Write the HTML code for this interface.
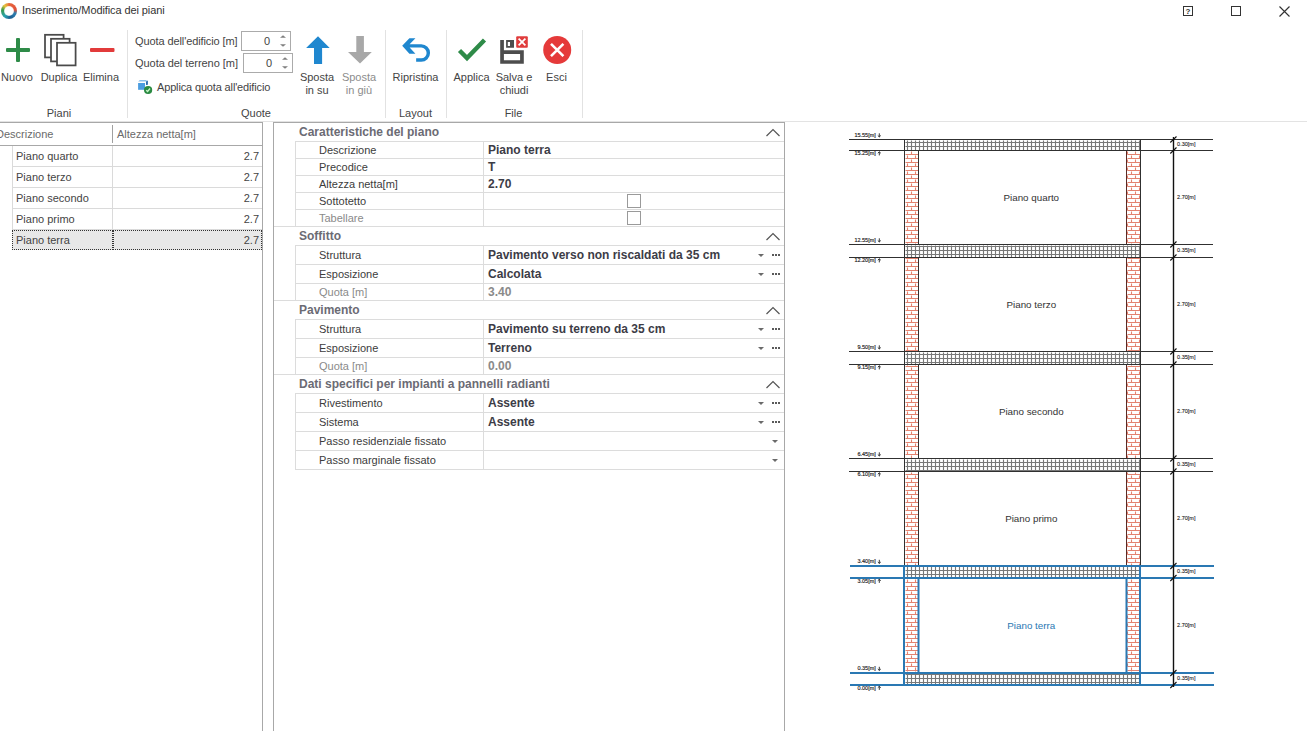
<!DOCTYPE html>
<html><head><meta charset="utf-8">
<style>
html,body{margin:0;padding:0;}
body{width:1307px;height:731px;overflow:hidden;background:#fff;position:relative;font-family:"Liberation Sans", sans-serif;font-size:11px;color:#444;}
.a{position:absolute;white-space:nowrap;}
.t{position:absolute;white-space:nowrap;line-height:13px;}
.c{text-align:center;}
.b{font-weight:bold;font-size:12px;}
</style></head><body>
<div class="a" style="left:1px;top:3px;width:16px;height:16px;border-radius:50%;background:conic-gradient(from 0deg,#e8673c 0deg,#e0503a 80deg,#2b7fb0 110deg,#1d5f93 170deg,#2aa3b0 220deg,#3b9a4c 280deg,#e8c43c 320deg,#e88a3c 350deg,#e8673c 360deg);"></div>
<div class="a" style="left:4px;top:6px;width:10px;height:10px;border-radius:50%;background:radial-gradient(circle,#fff 0,#fff 55%,rgba(255,255,255,0.6) 80%,rgba(255,255,255,0) 100%);"></div>
<div class="t" style="left:22px;top:4px;color:#333;letter-spacing:-0.1px;">Inserimento/Modifica dei piani</div>
<svg class="a" style="left:1180px;top:3px" width="110" height="16">
<rect x="3.5" y="3.5" width="9" height="9" fill="none" stroke="#333" stroke-width="1"/>
<text x="8" y="11" font-family="Liberation Sans" font-size="8" font-weight="bold" text-anchor="middle" fill="#333">?</text>
<rect x="51.5" y="3.5" width="9" height="9" fill="none" stroke="#333" stroke-width="1"/>
<path d="M99.5 3.5 L109.5 13.5 M109.5 3.5 L99.5 13.5" stroke="#333" stroke-width="1.15"/>
</svg>
<svg class="a" style="left:0;top:30px" width="600" height="40">
<!-- plus -->
<rect x="6" y="18" width="24" height="4" rx="1" fill="#2e8b48"/>
<rect x="16" y="8" width="4" height="24" rx="1" fill="#2e8b48"/>
<!-- duplica -->
<g fill="#fff" stroke="#4a4a4a" stroke-width="1.75">
<rect x="45" y="4.8" width="18.6" height="22.6"/>
<rect x="51" y="8.8" width="18.6" height="22.6"/>
<rect x="57" y="12.8" width="18.6" height="22.6"/>
</g>
<!-- minus -->
<rect x="90" y="18" width="24.5" height="4" rx="1" fill="#e23b3b"/>
<!-- up arrow -->
<path d="M318 6.2 L329.7 18 L322.1 18 L322.1 34 L314 34 L314 18 L306.1 18 Z" fill="#1f87cf"/>
<!-- down arrow -->
<path d="M356.3 6 L363.9 6 L363.9 22 L371.8 22 L360 33.6 L348 22 L356.3 22 Z" fill="#a8a8a8"/>
<!-- ripristina -->
<path d="M409.4 8.28 L415.44 8.28 L409.63 14.19 L421.26 14.19 A8.79 8.79 0 0 1 421.26 31.77 L416.14 31.77 L416.14 28.28 L421.26 28.28 A5.35 5.35 0 0 0 421.26 17.58 L409.63 17.58 L415.44 23.63 L409.4 23.63 L402.19 15.72 Z" fill="#1f87cf"/>
<!-- check -->
<path d="M459.5 20.5 L467 28 L484.5 10" fill="none" stroke="#2e8b48" stroke-width="4.4"/>
<!-- save -->
<path d="M500.2 10.1 H503.9 V20.2 H523.8 V33.8 H500.2 Z M503.9 23.9 V30.3 H520.1 V23.9 Z" fill="#4d4d4d" fill-rule="evenodd"/>
<path d="M506.1 10.1 H514 V17.8 H506.1 Z M507.8 12.1 V16 H510 V12.1 Z" fill="#4d4d4d" fill-rule="evenodd"/>
<rect x="516.2" y="6.2" width="11.6" height="11.6" rx="1" fill="#e03c3c"/>
<path d="M518.6 8.6 L525.4 15.4 M525.4 8.6 L518.6 15.4" stroke="#fff" stroke-width="1.7"/>
<!-- esci -->
<circle cx="557.2" cy="20" r="14" fill="#e53a3a"/>
<path d="M551 13.8 L563.4 26.2 M563.4 13.8 L551 26.2" stroke="#fff" stroke-width="2.6"/>
</svg>
<div class="t c" style="left:-13.0px;top:71px;width:60px;color:#444;">Nuovo</div><div class="t c" style="left:29.0px;top:71px;width:60px;color:#444;">Duplica</div><div class="t c" style="left:71.0px;top:71px;width:60px;color:#444;">Elimina</div><div class="t c" style="left:29.0px;top:107px;width:60px;color:#444;">Piani</div><div class="t c" style="left:287.0px;top:71px;width:60px;color:#444;">Sposta<br>in su</div><div class="t c" style="left:329.0px;top:71px;width:60px;color:#8c8c8c;">Sposta<br>in giù</div><div class="t c" style="left:226.0px;top:107px;width:60px;color:#444;">Quote</div><div class="t c" style="left:385.5px;top:71px;width:60px;color:#444;">Ripristina</div><div class="t c" style="left:385.5px;top:107px;width:60px;color:#444;">Layout</div><div class="t c" style="left:441.5px;top:71px;width:60px;color:#444;">Applica</div><div class="t c" style="left:484.0px;top:71px;width:60px;color:#444;">Salva e<br>chiudi</div><div class="t c" style="left:526.5px;top:71px;width:60px;color:#444;">Esci</div><div class="t c" style="left:483.5px;top:107px;width:60px;color:#444;">File</div><div class="a" style="left:127.0px;top:30px;width:1px;height:88px;background:#e2e2e2;"></div><div class="a" style="left:385.0px;top:30px;width:1px;height:88px;background:#e2e2e2;"></div><div class="a" style="left:446.0px;top:30px;width:1px;height:88px;background:#e2e2e2;"></div><div class="a" style="left:582.0px;top:30px;width:1px;height:88px;background:#e2e2e2;"></div><div class="t" style="left:135px;top:35px;letter-spacing:-0.1px;">Quota dell'edificio [m]</div>
<div class="t" style="left:135px;top:57px;letter-spacing:-0.05px;">Quota del terreno [m]</div>
<div class="a" style="left:241px;top:31px;width:48px;height:18px;border:1px solid #ababab;"></div>
<div class="a" style="left:243px;top:53px;width:48px;height:18px;border:1px solid #ababab;"></div>
<div class="t" style="left:264px;top:35px;">0</div>
<div class="t" style="left:266px;top:57px;">0</div>
<svg class="a" style="left:276px;top:33px" width="20" height="40">
<path d="M4 4.8 L7 2.2 L10 4.8 Z M4 11.2 L7 13.8 L10 11.2 Z" fill="#808080"/>
<path d="M6 26.8 L9 24.2 L12 26.8 Z M6 33.2 L9 35.8 L12 33.2 Z" fill="#808080"/>
</svg>
<svg class="a" style="left:134px;top:76px" width="20" height="20">
<path d="M4.1 5.6 L5.8 4.1 L12.9 4.1 L12 5.6 Z" fill="#8cc0ea"/>
<rect x="4.1" y="7" width="6.9" height="6.8" fill="#4b9de0"/>
<path d="M12 5.6 L13.9 4.6 L13.9 8.8 L12 9 Z" fill="#2b6cb0"/>
<circle cx="14.1" cy="14" r="4.1" fill="#2a8a42"/>
<path d="M12.2 14.2 L13.6 15.5 L16 12.5" fill="none" stroke="#c8f5c8" stroke-width="1.3"/>
</svg>
<div class="t" style="left:157px;top:81px;letter-spacing:-0.15px;">Applica quota all'edificio</div>
<div class="a" style="left:0;top:121px;width:1307px;height:1px;background:#e3e3e3;"></div><div class="a" style="left:0;top:122px;width:263px;height:609px;border-top:1px solid #a8a8a8;border-right:1px solid #a8a8a8;box-sizing:border-box;"></div><div class="t" style="left:-4px;top:128px;color:#6a6a6a;">Descrizione</div><div class="t" style="left:117px;top:128px;color:#6a6a6a;">Altezza netta[m]</div><div class="a" style="left:112px;top:125px;width:1px;height:18px;background:#a0a0a0;"></div><div class="a" style="left:0;top:145px;width:262px;height:1px;background:#a8a8a8;"></div><div class="a" style="left:12px;top:146px;width:1px;height:104px;background:#dadada;"></div><div class="a" style="left:112px;top:146px;width:1px;height:84px;background:#dadada;"></div><div class="a" style="left:13px;top:166px;width:249px;height:1px;background:#dadada;"></div><div class="t" style="left:16px;top:150px;">Piano quarto</div><div class="t" style="left:200px;top:150px;width:59px;text-align:right;">2.7</div><div class="a" style="left:13px;top:187px;width:249px;height:1px;background:#dadada;"></div><div class="t" style="left:16px;top:171px;">Piano terzo</div><div class="t" style="left:200px;top:171px;width:59px;text-align:right;">2.7</div><div class="a" style="left:13px;top:208px;width:249px;height:1px;background:#dadada;"></div><div class="t" style="left:16px;top:192px;">Piano secondo</div><div class="t" style="left:200px;top:192px;width:59px;text-align:right;">2.7</div><div class="a" style="left:13px;top:229px;width:249px;height:1px;background:#dadada;"></div><div class="t" style="left:16px;top:213px;">Piano primo</div><div class="t" style="left:200px;top:213px;width:59px;text-align:right;">2.7</div><div class="a" style="left:12px;top:230px;width:101px;height:20px;background:#e8e8e8;border:1px dotted #333;box-sizing:border-box;"></div><div class="a" style="left:113px;top:230px;width:149px;height:20px;background:#e8e8e8;border:1px dotted #333;box-sizing:border-box;"></div><div class="t" style="left:16px;top:234px;">Piano terra</div><div class="t" style="left:200px;top:234px;width:59px;text-align:right;">2.7</div><div class="a" style="left:273px;top:122px;width:512px;height:609px;border-top:1px solid #a8a8a8;border-left:1px solid #a8a8a8;border-right:1px solid #a8a8a8;box-sizing:border-box;"></div><div class="t b" style="left:299px;top:126px;color:#6b6b74;">Caratteristiche del piano</div><svg class="a" style="left:765px;top:128px" width="16" height="10"><path d="M1.5 8 L8 1.5 L14.5 8" fill="none" stroke="#555" stroke-width="1.2"/></svg><div class="a" style="left:295px;top:141px;width:489px;height:1px;background:#dcdcdc;"></div><div class="a" style="left:295px;top:141px;width:1px;height:85px;background:#dcdcdc;"></div><div class="a" style="left:483px;top:141px;width:1px;height:85px;background:#dcdcdc;"></div><div class="t" style="left:319px;top:143.5px;color:#3c3c3c;">Descrizione</div><div class="t b" style="left:488px;top:143.5px;color:#3c3c46;">Piano terra</div><div class="a" style="left:295px;top:158px;width:489px;height:1px;background:#dcdcdc;"></div><div class="t" style="left:319px;top:160.5px;color:#3c3c3c;">Precodice</div><div class="t b" style="left:488px;top:160.5px;color:#3c3c46;">T</div><div class="a" style="left:295px;top:175px;width:489px;height:1px;background:#dcdcdc;"></div><div class="t" style="left:319px;top:177.5px;color:#3c3c3c;">Altezza netta[m]</div><div class="t b" style="left:488px;top:177.5px;color:#3c3c46;">2.70</div><div class="a" style="left:295px;top:192px;width:489px;height:1px;background:#dcdcdc;"></div><div class="t" style="left:319px;top:194.5px;color:#3c3c3c;">Sottotetto</div><div class="a" style="left:627px;top:194px;width:14px;height:14px;border:1px solid #9a9a9a;box-sizing:border-box;background:#fff;"></div><div class="a" style="left:295px;top:209px;width:489px;height:1px;background:#dcdcdc;"></div><div class="t" style="left:319px;top:211.5px;color:#8a8a8a;">Tabellare</div><div class="a" style="left:627px;top:211px;width:14px;height:14px;border:1px solid #9a9a9a;box-sizing:border-box;background:#fff;"></div><div class="a" style="left:295px;top:226px;width:489px;height:1px;background:#dcdcdc;"></div><div class="a" style="left:274px;top:226px;width:510px;height:1px;background:#dcdcdc;"></div><div class="t b" style="left:299px;top:230px;color:#6b6b74;">Soffitto</div><svg class="a" style="left:765px;top:232px" width="16" height="10"><path d="M1.5 8 L8 1.5 L14.5 8" fill="none" stroke="#555" stroke-width="1.2"/></svg><div class="a" style="left:295px;top:245px;width:489px;height:1px;background:#dcdcdc;"></div><div class="a" style="left:295px;top:245px;width:1px;height:55px;background:#dcdcdc;"></div><div class="a" style="left:483px;top:245px;width:1px;height:55px;background:#dcdcdc;"></div><div class="t" style="left:319px;top:248.5px;color:#3c3c3c;">Struttura</div><div class="t b" style="left:488px;top:248.5px;color:#3c3c46;">Pavimento verso non riscaldati da 35 cm</div><svg class="a" style="left:758px;top:253.5px" width="7" height="4"><path d="M0 0 L6 0 L3 3 Z" fill="#6a6a6a"/></svg><svg class="a" style="left:772px;top:254px" width="9" height="2"><rect x="0" y="0" width="2" height="2" fill="#5a5a5a"/><rect x="3" y="0" width="2" height="2" fill="#5a5a5a"/><rect x="6" y="0" width="2" height="2" fill="#5a5a5a"/></svg><div class="a" style="left:295px;top:264px;width:489px;height:1px;background:#dcdcdc;"></div><div class="t" style="left:319px;top:267.5px;color:#3c3c3c;">Esposizione</div><div class="t b" style="left:488px;top:267.5px;color:#3c3c46;">Calcolata</div><svg class="a" style="left:758px;top:272.5px" width="7" height="4"><path d="M0 0 L6 0 L3 3 Z" fill="#6a6a6a"/></svg><svg class="a" style="left:772px;top:273px" width="9" height="2"><rect x="0" y="0" width="2" height="2" fill="#5a5a5a"/><rect x="3" y="0" width="2" height="2" fill="#5a5a5a"/><rect x="6" y="0" width="2" height="2" fill="#5a5a5a"/></svg><div class="a" style="left:295px;top:283px;width:489px;height:1px;background:#dcdcdc;"></div><div class="t" style="left:319px;top:285.5px;color:#8a8a8a;">Quota [m]</div><div class="t b" style="left:488px;top:285.5px;color:#8a8a8a;">3.40</div><div class="a" style="left:295px;top:300px;width:489px;height:1px;background:#dcdcdc;"></div><div class="a" style="left:274px;top:300px;width:510px;height:1px;background:#dcdcdc;"></div><div class="t b" style="left:299px;top:304px;color:#6b6b74;">Pavimento</div><svg class="a" style="left:765px;top:306px" width="16" height="10"><path d="M1.5 8 L8 1.5 L14.5 8" fill="none" stroke="#555" stroke-width="1.2"/></svg><div class="a" style="left:295px;top:319px;width:489px;height:1px;background:#dcdcdc;"></div><div class="a" style="left:295px;top:319px;width:1px;height:55px;background:#dcdcdc;"></div><div class="a" style="left:483px;top:319px;width:1px;height:55px;background:#dcdcdc;"></div><div class="t" style="left:319px;top:322.5px;color:#3c3c3c;">Struttura</div><div class="t b" style="left:488px;top:322.5px;color:#3c3c46;">Pavimento su terreno da 35 cm</div><svg class="a" style="left:758px;top:327.5px" width="7" height="4"><path d="M0 0 L6 0 L3 3 Z" fill="#6a6a6a"/></svg><svg class="a" style="left:772px;top:328px" width="9" height="2"><rect x="0" y="0" width="2" height="2" fill="#5a5a5a"/><rect x="3" y="0" width="2" height="2" fill="#5a5a5a"/><rect x="6" y="0" width="2" height="2" fill="#5a5a5a"/></svg><div class="a" style="left:295px;top:338px;width:489px;height:1px;background:#dcdcdc;"></div><div class="t" style="left:319px;top:341.5px;color:#3c3c3c;">Esposizione</div><div class="t b" style="left:488px;top:341.5px;color:#3c3c46;">Terreno</div><svg class="a" style="left:758px;top:346.5px" width="7" height="4"><path d="M0 0 L6 0 L3 3 Z" fill="#6a6a6a"/></svg><svg class="a" style="left:772px;top:347px" width="9" height="2"><rect x="0" y="0" width="2" height="2" fill="#5a5a5a"/><rect x="3" y="0" width="2" height="2" fill="#5a5a5a"/><rect x="6" y="0" width="2" height="2" fill="#5a5a5a"/></svg><div class="a" style="left:295px;top:357px;width:489px;height:1px;background:#dcdcdc;"></div><div class="t" style="left:319px;top:359.5px;color:#8a8a8a;">Quota [m]</div><div class="t b" style="left:488px;top:359.5px;color:#8a8a8a;">0.00</div><div class="a" style="left:295px;top:374px;width:489px;height:1px;background:#dcdcdc;"></div><div class="a" style="left:274px;top:374px;width:510px;height:1px;background:#dcdcdc;"></div><div class="t b" style="left:299px;top:378px;color:#6b6b74;">Dati specifici per impianti a pannelli radianti</div><svg class="a" style="left:765px;top:380px" width="16" height="10"><path d="M1.5 8 L8 1.5 L14.5 8" fill="none" stroke="#555" stroke-width="1.2"/></svg><div class="a" style="left:295px;top:393px;width:489px;height:1px;background:#dcdcdc;"></div><div class="a" style="left:295px;top:393px;width:1px;height:76px;background:#dcdcdc;"></div><div class="a" style="left:483px;top:393px;width:1px;height:76px;background:#dcdcdc;"></div><div class="t" style="left:319px;top:396.5px;color:#3c3c3c;">Rivestimento</div><div class="t b" style="left:488px;top:396.5px;color:#3c3c46;">Assente</div><svg class="a" style="left:758px;top:401.5px" width="7" height="4"><path d="M0 0 L6 0 L3 3 Z" fill="#6a6a6a"/></svg><svg class="a" style="left:772px;top:402px" width="9" height="2"><rect x="0" y="0" width="2" height="2" fill="#5a5a5a"/><rect x="3" y="0" width="2" height="2" fill="#5a5a5a"/><rect x="6" y="0" width="2" height="2" fill="#5a5a5a"/></svg><div class="a" style="left:295px;top:412px;width:489px;height:1px;background:#dcdcdc;"></div><div class="t" style="left:319px;top:415.5px;color:#3c3c3c;">Sistema</div><div class="t b" style="left:488px;top:415.5px;color:#3c3c46;">Assente</div><svg class="a" style="left:758px;top:420.5px" width="7" height="4"><path d="M0 0 L6 0 L3 3 Z" fill="#6a6a6a"/></svg><svg class="a" style="left:772px;top:421px" width="9" height="2"><rect x="0" y="0" width="2" height="2" fill="#5a5a5a"/><rect x="3" y="0" width="2" height="2" fill="#5a5a5a"/><rect x="6" y="0" width="2" height="2" fill="#5a5a5a"/></svg><div class="a" style="left:295px;top:431px;width:489px;height:1px;background:#dcdcdc;"></div><div class="t" style="left:319px;top:434.5px;color:#3c3c3c;">Passo residenziale fissato</div><svg class="a" style="left:772px;top:439.5px" width="7" height="4"><path d="M0 0 L6 0 L3 3 Z" fill="#6a6a6a"/></svg><div class="a" style="left:295px;top:450px;width:489px;height:1px;background:#dcdcdc;"></div><div class="t" style="left:319px;top:453.5px;color:#3c3c3c;">Passo marginale fissato</div><svg class="a" style="left:772px;top:458.5px" width="7" height="4"><path d="M0 0 L6 0 L3 3 Z" fill="#6a6a6a"/></svg><div class="a" style="left:295px;top:469px;width:489px;height:1px;background:#dcdcdc;"></div><svg class="a" style="left:0;top:0" width="1307" height="731" shape-rendering="crispEdges">
<path d="M905 674h235M905 678h235M905 682h235M907 673v12M911 673v12M915 673v12M919 673v12M923 673v12M927 673v12M931 673v12M935 673v12M939 673v12M943 673v12M947 673v12M951 673v12M955 673v12M959 673v12M963 673v12M967 673v12M971 673v12M975 673v12M979 673v12M983 673v12M987 673v12M991 673v12M995 673v12M999 673v12M1003 673v12M1007 673v12M1011 673v12M1015 673v12M1019 673v12M1023 673v12M1027 673v12M1031 673v12M1035 673v12M1039 673v12M1043 673v12M1047 673v12M1051 673v12M1055 673v12M1059 673v12M1063 673v12M1067 673v12M1071 673v12M1075 673v12M1079 673v12M1083 673v12M1087 673v12M1091 673v12M1095 673v12M1099 673v12M1103 673v12M1107 673v12M1111 673v12M1115 673v12M1119 673v12M1123 673v12M1127 673v12M1131 673v12M1135 673v12M1139 673v12M905 566h235M905 570h235M905 574h235M907 566v12M911 566v12M915 566v12M919 566v12M923 566v12M927 566v12M931 566v12M935 566v12M939 566v12M943 566v12M947 566v12M951 566v12M955 566v12M959 566v12M963 566v12M967 566v12M971 566v12M975 566v12M979 566v12M983 566v12M987 566v12M991 566v12M995 566v12M999 566v12M1003 566v12M1007 566v12M1011 566v12M1015 566v12M1019 566v12M1023 566v12M1027 566v12M1031 566v12M1035 566v12M1039 566v12M1043 566v12M1047 566v12M1051 566v12M1055 566v12M1059 566v12M1063 566v12M1067 566v12M1071 566v12M1075 566v12M1079 566v12M1083 566v12M1087 566v12M1091 566v12M1095 566v12M1099 566v12M1103 566v12M1107 566v12M1111 566v12M1115 566v12M1119 566v12M1123 566v12M1127 566v12M1131 566v12M1135 566v12M1139 566v12M905 462h235M905 466h235M905 470h235M907 459v12M911 459v12M915 459v12M919 459v12M923 459v12M927 459v12M931 459v12M935 459v12M939 459v12M943 459v12M947 459v12M951 459v12M955 459v12M959 459v12M963 459v12M967 459v12M971 459v12M975 459v12M979 459v12M983 459v12M987 459v12M991 459v12M995 459v12M999 459v12M1003 459v12M1007 459v12M1011 459v12M1015 459v12M1019 459v12M1023 459v12M1027 459v12M1031 459v12M1035 459v12M1039 459v12M1043 459v12M1047 459v12M1051 459v12M1055 459v12M1059 459v12M1063 459v12M1067 459v12M1071 459v12M1075 459v12M1079 459v12M1083 459v12M1087 459v12M1091 459v12M1095 459v12M1099 459v12M1103 459v12M1107 459v12M1111 459v12M1115 459v12M1119 459v12M1123 459v12M1127 459v12M1131 459v12M1135 459v12M1139 459v12M905 354h235M905 358h235M905 362h235M907 352v12M911 352v12M915 352v12M919 352v12M923 352v12M927 352v12M931 352v12M935 352v12M939 352v12M943 352v12M947 352v12M951 352v12M955 352v12M959 352v12M963 352v12M967 352v12M971 352v12M975 352v12M979 352v12M983 352v12M987 352v12M991 352v12M995 352v12M999 352v12M1003 352v12M1007 352v12M1011 352v12M1015 352v12M1019 352v12M1023 352v12M1027 352v12M1031 352v12M1035 352v12M1039 352v12M1043 352v12M1047 352v12M1051 352v12M1055 352v12M1059 352v12M1063 352v12M1067 352v12M1071 352v12M1075 352v12M1079 352v12M1083 352v12M1087 352v12M1091 352v12M1095 352v12M1099 352v12M1103 352v12M1107 352v12M1111 352v12M1115 352v12M1119 352v12M1123 352v12M1127 352v12M1131 352v12M1135 352v12M1139 352v12M905 246h235M905 250h235M905 254h235M907 245v12M911 245v12M915 245v12M919 245v12M923 245v12M927 245v12M931 245v12M935 245v12M939 245v12M943 245v12M947 245v12M951 245v12M955 245v12M959 245v12M963 245v12M967 245v12M971 245v12M975 245v12M979 245v12M983 245v12M987 245v12M991 245v12M995 245v12M999 245v12M1003 245v12M1007 245v12M1011 245v12M1015 245v12M1019 245v12M1023 245v12M1027 245v12M1031 245v12M1035 245v12M1039 245v12M1043 245v12M1047 245v12M1051 245v12M1055 245v12M1059 245v12M1063 245v12M1067 245v12M1071 245v12M1075 245v12M1079 245v12M1083 245v12M1087 245v12M1091 245v12M1095 245v12M1099 245v12M1103 245v12M1107 245v12M1111 245v12M1115 245v12M1119 245v12M1123 245v12M1127 245v12M1131 245v12M1135 245v12M1139 245v12M905 142h235M905 146h235M907 140v10M911 140v10M915 140v10M919 140v10M923 140v10M927 140v10M931 140v10M935 140v10M939 140v10M943 140v10M947 140v10M951 140v10M955 140v10M959 140v10M963 140v10M967 140v10M971 140v10M975 140v10M979 140v10M983 140v10M987 140v10M991 140v10M995 140v10M999 140v10M1003 140v10M1007 140v10M1011 140v10M1015 140v10M1019 140v10M1023 140v10M1027 140v10M1031 140v10M1035 140v10M1039 140v10M1043 140v10M1047 140v10M1051 140v10M1055 140v10M1059 140v10M1063 140v10M1067 140v10M1071 140v10M1075 140v10M1079 140v10M1083 140v10M1087 140v10M1091 140v10M1095 140v10M1099 140v10M1103 140v10M1107 140v10M1111 140v10M1115 140v10M1119 140v10M1123 140v10M1127 140v10M1131 140v10M1135 140v10M1139 140v10" fill="none" stroke="#787878" stroke-width="1.12" transform="translate(0.5,0.5)" shape-rendering="auto"/>
<path d="M905 582h13M905 586h13M905 590h13M905 594h13M905 598h13M905 602h13M905 606h13M905 610h13M905 614h13M905 618h13M905 622h13M905 626h13M905 630h13M905 634h13M905 638h13M905 642h13M905 646h13M905 650h13M905 654h13M905 658h13M905 662h13M905 666h13M905 670h13M907 579v3M915 579v3M911 583v3M907 587v3M915 587v3M911 591v3M907 595v3M915 595v3M911 599v3M907 603v3M915 603v3M911 607v3M907 611v3M915 611v3M911 615v3M907 619v3M915 619v3M911 623v3M907 627v3M915 627v3M911 631v3M907 635v3M915 635v3M911 639v3M907 643v3M915 643v3M911 647v3M907 651v3M915 651v3M911 655v3M907 659v3M915 659v3M911 663v3M907 667v3M915 667v3M907 671v1M915 671v1M1127 582h13M1127 586h13M1127 590h13M1127 594h13M1127 598h13M1127 602h13M1127 606h13M1127 610h13M1127 614h13M1127 618h13M1127 622h13M1127 626h13M1127 630h13M1127 634h13M1127 638h13M1127 642h13M1127 646h13M1127 650h13M1127 654h13M1127 658h13M1127 662h13M1127 666h13M1127 670h13M1131 579v3M1139 579v3M1127 583v3M1135 583v3M1131 587v3M1139 587v3M1127 591v3M1135 591v3M1131 595v3M1139 595v3M1127 599v3M1135 599v3M1131 603v3M1139 603v3M1127 607v3M1135 607v3M1131 611v3M1139 611v3M1127 615v3M1135 615v3M1131 619v3M1139 619v3M1127 623v3M1135 623v3M1131 627v3M1139 627v3M1127 631v3M1135 631v3M1131 635v3M1139 635v3M1127 639v3M1135 639v3M1131 643v3M1139 643v3M1127 647v3M1135 647v3M1131 651v3M1139 651v3M1127 655v3M1135 655v3M1131 659v3M1139 659v3M1127 663v3M1135 663v3M1131 667v3M1139 667v3M1131 671v1M1139 671v1M905 474h13M905 478h13M905 482h13M905 486h13M905 490h13M905 494h13M905 498h13M905 502h13M905 506h13M905 510h13M905 514h13M905 518h13M905 522h13M905 526h13M905 530h13M905 534h13M905 538h13M905 542h13M905 546h13M905 550h13M905 554h13M905 558h13M905 562h13M911 472v2M907 475v3M915 475v3M911 479v3M907 483v3M915 483v3M911 487v3M907 491v3M915 491v3M911 495v3M907 499v3M915 499v3M911 503v3M907 507v3M915 507v3M911 511v3M907 515v3M915 515v3M911 519v3M907 523v3M915 523v3M911 527v3M907 531v3M915 531v3M911 535v3M907 539v3M915 539v3M911 543v3M907 547v3M915 547v3M911 551v3M907 555v3M915 555v3M911 559v3M907 563v2M915 563v2M1127 474h13M1127 478h13M1127 482h13M1127 486h13M1127 490h13M1127 494h13M1127 498h13M1127 502h13M1127 506h13M1127 510h13M1127 514h13M1127 518h13M1127 522h13M1127 526h13M1127 530h13M1127 534h13M1127 538h13M1127 542h13M1127 546h13M1127 550h13M1127 554h13M1127 558h13M1127 562h13M1127 472v2M1135 472v2M1131 475v3M1139 475v3M1127 479v3M1135 479v3M1131 483v3M1139 483v3M1127 487v3M1135 487v3M1131 491v3M1139 491v3M1127 495v3M1135 495v3M1131 499v3M1139 499v3M1127 503v3M1135 503v3M1131 507v3M1139 507v3M1127 511v3M1135 511v3M1131 515v3M1139 515v3M1127 519v3M1135 519v3M1131 523v3M1139 523v3M1127 527v3M1135 527v3M1131 531v3M1139 531v3M1127 535v3M1135 535v3M1131 539v3M1139 539v3M1127 543v3M1135 543v3M1131 547v3M1139 547v3M1127 551v3M1135 551v3M1131 555v3M1139 555v3M1127 559v3M1135 559v3M1131 563v2M1139 563v2M905 366h13M905 370h13M905 374h13M905 378h13M905 382h13M905 386h13M905 390h13M905 394h13M905 398h13M905 402h13M905 406h13M905 410h13M905 414h13M905 418h13M905 422h13M905 426h13M905 430h13M905 434h13M905 438h13M905 442h13M905 446h13M905 450h13M905 454h13M907 365v1M915 365v1M911 367v3M907 371v3M915 371v3M911 375v3M907 379v3M915 379v3M911 383v3M907 387v3M915 387v3M911 391v3M907 395v3M915 395v3M911 399v3M907 403v3M915 403v3M911 407v3M907 411v3M915 411v3M911 415v3M907 419v3M915 419v3M911 423v3M907 427v3M915 427v3M911 431v3M907 435v3M915 435v3M911 439v3M907 443v3M915 443v3M911 447v3M907 451v3M915 451v3M911 455v3M1127 366h13M1127 370h13M1127 374h13M1127 378h13M1127 382h13M1127 386h13M1127 390h13M1127 394h13M1127 398h13M1127 402h13M1127 406h13M1127 410h13M1127 414h13M1127 418h13M1127 422h13M1127 426h13M1127 430h13M1127 434h13M1127 438h13M1127 442h13M1127 446h13M1127 450h13M1127 454h13M1131 365v1M1139 365v1M1127 367v3M1135 367v3M1131 371v3M1139 371v3M1127 375v3M1135 375v3M1131 379v3M1139 379v3M1127 383v3M1135 383v3M1131 387v3M1139 387v3M1127 391v3M1135 391v3M1131 395v3M1139 395v3M1127 399v3M1135 399v3M1131 403v3M1139 403v3M1127 407v3M1135 407v3M1131 411v3M1139 411v3M1127 415v3M1135 415v3M1131 419v3M1139 419v3M1127 423v3M1135 423v3M1131 427v3M1139 427v3M1127 431v3M1135 431v3M1131 435v3M1139 435v3M1127 439v3M1135 439v3M1131 443v3M1139 443v3M1127 447v3M1135 447v3M1131 451v3M1139 451v3M1127 455v3M1135 455v3M905 258h13M905 262h13M905 266h13M905 270h13M905 274h13M905 278h13M905 282h13M905 286h13M905 290h13M905 294h13M905 298h13M905 302h13M905 306h13M905 310h13M905 314h13M905 318h13M905 322h13M905 326h13M905 330h13M905 334h13M905 338h13M905 342h13M905 346h13M905 350h13M907 259v3M915 259v3M911 263v3M907 267v3M915 267v3M911 271v3M907 275v3M915 275v3M911 279v3M907 283v3M915 283v3M911 287v3M907 291v3M915 291v3M911 295v3M907 299v3M915 299v3M911 303v3M907 307v3M915 307v3M911 311v3M907 315v3M915 315v3M911 319v3M907 323v3M915 323v3M911 327v3M907 331v3M915 331v3M911 335v3M907 339v3M915 339v3M911 343v3M907 347v3M915 347v3M1127 258h13M1127 262h13M1127 266h13M1127 270h13M1127 274h13M1127 278h13M1127 282h13M1127 286h13M1127 290h13M1127 294h13M1127 298h13M1127 302h13M1127 306h13M1127 310h13M1127 314h13M1127 318h13M1127 322h13M1127 326h13M1127 330h13M1127 334h13M1127 338h13M1127 342h13M1127 346h13M1127 350h13M1131 259v3M1139 259v3M1127 263v3M1135 263v3M1131 267v3M1139 267v3M1127 271v3M1135 271v3M1131 275v3M1139 275v3M1127 279v3M1135 279v3M1131 283v3M1139 283v3M1127 287v3M1135 287v3M1131 291v3M1139 291v3M1127 295v3M1135 295v3M1131 299v3M1139 299v3M1127 303v3M1135 303v3M1131 307v3M1139 307v3M1127 311v3M1135 311v3M1131 315v3M1139 315v3M1127 319v3M1135 319v3M1131 323v3M1139 323v3M1127 327v3M1135 327v3M1131 331v3M1139 331v3M1127 335v3M1135 335v3M1131 339v3M1139 339v3M1127 343v3M1135 343v3M1131 347v3M1139 347v3M905 154h13M905 158h13M905 162h13M905 166h13M905 170h13M905 174h13M905 178h13M905 182h13M905 186h13M905 190h13M905 194h13M905 198h13M905 202h13M905 206h13M905 210h13M905 214h13M905 218h13M905 222h13M905 226h13M905 230h13M905 234h13M905 238h13M905 242h13M911 151v3M907 155v3M915 155v3M911 159v3M907 163v3M915 163v3M911 167v3M907 171v3M915 171v3M911 175v3M907 179v3M915 179v3M911 183v3M907 187v3M915 187v3M911 191v3M907 195v3M915 195v3M911 199v3M907 203v3M915 203v3M911 207v3M907 211v3M915 211v3M911 215v3M907 219v3M915 219v3M911 223v3M907 227v3M915 227v3M911 231v3M907 235v3M915 235v3M911 239v3M907 243v1M915 243v1M1127 154h13M1127 158h13M1127 162h13M1127 166h13M1127 170h13M1127 174h13M1127 178h13M1127 182h13M1127 186h13M1127 190h13M1127 194h13M1127 198h13M1127 202h13M1127 206h13M1127 210h13M1127 214h13M1127 218h13M1127 222h13M1127 226h13M1127 230h13M1127 234h13M1127 238h13M1127 242h13M1127 151v3M1135 151v3M1131 155v3M1139 155v3M1127 159v3M1135 159v3M1131 163v3M1139 163v3M1127 167v3M1135 167v3M1131 171v3M1139 171v3M1127 175v3M1135 175v3M1131 179v3M1139 179v3M1127 183v3M1135 183v3M1131 187v3M1139 187v3M1127 191v3M1135 191v3M1131 195v3M1139 195v3M1127 199v3M1135 199v3M1131 203v3M1139 203v3M1127 207v3M1135 207v3M1131 211v3M1139 211v3M1127 215v3M1135 215v3M1131 219v3M1139 219v3M1127 223v3M1135 223v3M1131 227v3M1139 227v3M1127 231v3M1135 231v3M1131 235v3M1139 235v3M1127 239v3M1135 239v3M1131 243v1M1139 243v1" fill="none" stroke="#e3826f" stroke-width="1.1" transform="translate(0.5,0.5)" shape-rendering="auto"/>
<path d="M904 577.5V672.5M918.5 577.5V672.5M1126.5 577.5V672.5M1140 577.5V672.5" stroke="#2a78b3" stroke-width="2" shape-rendering="auto"/>
<path d="M904.5 471V565.5M918.5 471V565.5M1140.5 471V565.5" stroke="#303030" stroke-width="1"/>
<path d="M1126.5 471V565.5" stroke="#5a2a25" stroke-width="1"/>
<path d="M904.5 364V458M918.5 364V458M1140.5 364V458" stroke="#303030" stroke-width="1"/>
<path d="M1126.5 364V458" stroke="#5a2a25" stroke-width="1"/>
<path d="M904.5 257V351M918.5 257V351M1140.5 257V351" stroke="#303030" stroke-width="1"/>
<path d="M1126.5 257V351" stroke="#5a2a25" stroke-width="1"/>
<path d="M904.5 150V244M918.5 150V244M1140.5 150V244" stroke="#303030" stroke-width="1"/>
<path d="M1126.5 150V244" stroke="#5a2a25" stroke-width="1"/>
<path d="M904 672.5V684.5M1140 672.5V684.5" stroke="#2a78b3" stroke-width="2"/>
<path d="M904 565.5V577.5M1140 565.5V577.5" stroke="#2a78b3" stroke-width="2"/>
<path d="M904.5 458V471M1140.5 458V471" stroke="#303030" stroke-width="1"/>
<path d="M904.5 351V364M1140.5 351V364" stroke="#303030" stroke-width="1"/>
<path d="M904.5 244V257M1140.5 244V257" stroke="#303030" stroke-width="1"/>
<path d="M904.5 139V150M1140.5 139V150" stroke="#303030" stroke-width="1"/>
<path d="M850 685.0H1214" stroke="#2a78b3" stroke-width="2"/>
<path d="M850 673.0H1214" stroke="#2a78b3" stroke-width="2"/>
<path d="M850 578.0H1214" stroke="#2a78b3" stroke-width="2"/>
<path d="M850 566.0H1214" stroke="#2a78b3" stroke-width="2"/>
<path d="M849 471.5H1213" stroke="#303030" stroke-width="1"/>
<path d="M849 458.5H1213" stroke="#303030" stroke-width="1"/>
<path d="M849 364.5H1213" stroke="#303030" stroke-width="1"/>
<path d="M849 351.5H1213" stroke="#303030" stroke-width="1"/>
<path d="M849 257.5H1213" stroke="#303030" stroke-width="1"/>
<path d="M849 244.5H1213" stroke="#303030" stroke-width="1"/>
<path d="M849 150.5H1213" stroke="#303030" stroke-width="1"/>
<path d="M849 139.5H1213" stroke="#303030" stroke-width="1"/>
</svg>
<svg class="a" style="left:0;top:0" width="1307" height="731">
<path d="M1173.5 137 V687" stroke="#111" stroke-width="1.4"/>
<path d="M1170.3 688.00 L1176.5 682.00" stroke="#111" stroke-width="1.1"/>
<path d="M1170.3 676.00 L1176.5 670.00" stroke="#111" stroke-width="1.1"/>
<path d="M1170.3 581.00 L1176.5 575.00" stroke="#111" stroke-width="1.1"/>
<path d="M1170.3 569.00 L1176.5 563.00" stroke="#111" stroke-width="1.1"/>
<path d="M1170.3 474.50 L1176.5 468.50" stroke="#111" stroke-width="1.1"/>
<path d="M1170.3 461.50 L1176.5 455.50" stroke="#111" stroke-width="1.1"/>
<path d="M1170.3 367.50 L1176.5 361.50" stroke="#111" stroke-width="1.1"/>
<path d="M1170.3 354.50 L1176.5 348.50" stroke="#111" stroke-width="1.1"/>
<path d="M1170.3 260.50 L1176.5 254.50" stroke="#111" stroke-width="1.1"/>
<path d="M1170.3 247.50 L1176.5 241.50" stroke="#111" stroke-width="1.1"/>
<path d="M1170.3 153.50 L1176.5 147.50" stroke="#111" stroke-width="1.1"/>
<path d="M1170.3 142.50 L1176.5 136.50" stroke="#111" stroke-width="1.1"/>
<text x="875.8" y="689.90" font-family="Liberation Sans" font-size="5.5" text-anchor="end" fill="#1a1a1a" stroke="#1a1a1a" stroke-width="0.15">0.00[m]</text>
<path d="M879.3 686.30V689.90M877.8 687.70L879.3 686.30L880.8 687.70" stroke="#222" stroke-width="0.9" fill="none"/>
<text x="875.8" y="670.40" font-family="Liberation Sans" font-size="5.5" text-anchor="end" fill="#1a1a1a" stroke="#1a1a1a" stroke-width="0.15">0.35[m]</text>
<path d="M879.3 666.80V670.40M877.8 669.00L879.3 670.40L880.8 669.00" stroke="#222" stroke-width="0.9" fill="none"/>
<text x="875.8" y="582.90" font-family="Liberation Sans" font-size="5.5" text-anchor="end" fill="#1a1a1a" stroke="#1a1a1a" stroke-width="0.15">3.05[m]</text>
<path d="M879.3 579.30V582.90M877.8 580.70L879.3 579.30L880.8 580.70" stroke="#222" stroke-width="0.9" fill="none"/>
<text x="875.8" y="563.40" font-family="Liberation Sans" font-size="5.5" text-anchor="end" fill="#1a1a1a" stroke="#1a1a1a" stroke-width="0.15">3.40[m]</text>
<path d="M879.3 559.80V563.40M877.8 562.00L879.3 563.40L880.8 562.00" stroke="#222" stroke-width="0.9" fill="none"/>
<text x="875.8" y="476.40" font-family="Liberation Sans" font-size="5.5" text-anchor="end" fill="#1a1a1a" stroke="#1a1a1a" stroke-width="0.15">6.10[m]</text>
<path d="M879.3 472.80V476.40M877.8 474.20L879.3 472.80L880.8 474.20" stroke="#222" stroke-width="0.9" fill="none"/>
<text x="875.8" y="455.90" font-family="Liberation Sans" font-size="5.5" text-anchor="end" fill="#1a1a1a" stroke="#1a1a1a" stroke-width="0.15">6.45[m]</text>
<path d="M879.3 452.30V455.90M877.8 454.50L879.3 455.90L880.8 454.50" stroke="#222" stroke-width="0.9" fill="none"/>
<text x="875.8" y="369.40" font-family="Liberation Sans" font-size="5.5" text-anchor="end" fill="#1a1a1a" stroke="#1a1a1a" stroke-width="0.15">9.15[m]</text>
<path d="M879.3 365.80V369.40M877.8 367.20L879.3 365.80L880.8 367.20" stroke="#222" stroke-width="0.9" fill="none"/>
<text x="875.8" y="348.90" font-family="Liberation Sans" font-size="5.5" text-anchor="end" fill="#1a1a1a" stroke="#1a1a1a" stroke-width="0.15">9.50[m]</text>
<path d="M879.3 345.30V348.90M877.8 347.50L879.3 348.90L880.8 347.50" stroke="#222" stroke-width="0.9" fill="none"/>
<text x="875.8" y="262.40" font-family="Liberation Sans" font-size="5.5" text-anchor="end" fill="#1a1a1a" stroke="#1a1a1a" stroke-width="0.15">12.20[m]</text>
<path d="M879.3 258.80V262.40M877.8 260.20L879.3 258.80L880.8 260.20" stroke="#222" stroke-width="0.9" fill="none"/>
<text x="875.8" y="241.90" font-family="Liberation Sans" font-size="5.5" text-anchor="end" fill="#1a1a1a" stroke="#1a1a1a" stroke-width="0.15">12.55[m]</text>
<path d="M879.3 238.30V241.90M877.8 240.50L879.3 241.90L880.8 240.50" stroke="#222" stroke-width="0.9" fill="none"/>
<text x="875.8" y="155.40" font-family="Liberation Sans" font-size="5.5" text-anchor="end" fill="#1a1a1a" stroke="#1a1a1a" stroke-width="0.15">15.25[m]</text>
<path d="M879.3 151.80V155.40M877.8 153.20L879.3 151.80L880.8 153.20" stroke="#222" stroke-width="0.9" fill="none"/>
<text x="875.8" y="136.90" font-family="Liberation Sans" font-size="5.5" text-anchor="end" fill="#1a1a1a" stroke="#1a1a1a" stroke-width="0.15">15.55[m]</text>
<path d="M879.3 133.30V136.90M877.8 135.50L879.3 136.90L880.8 135.50" stroke="#222" stroke-width="0.9" fill="none"/>
<text x="1177.1" y="680.20" font-family="Liberation Sans" font-size="5.5" fill="#222" stroke="#222" stroke-width="0.1">0.35[m]</text>
<text x="1177.1" y="626.70" font-family="Liberation Sans" font-size="5.5" fill="#222" stroke="#222" stroke-width="0.1">2.70[m]</text>
<text x="1177.1" y="573.20" font-family="Liberation Sans" font-size="5.5" fill="#222" stroke="#222" stroke-width="0.1">0.35[m]</text>
<text x="1177.1" y="519.95" font-family="Liberation Sans" font-size="5.5" fill="#222" stroke="#222" stroke-width="0.1">2.70[m]</text>
<text x="1177.1" y="466.20" font-family="Liberation Sans" font-size="5.5" fill="#222" stroke="#222" stroke-width="0.1">0.35[m]</text>
<text x="1177.1" y="412.70" font-family="Liberation Sans" font-size="5.5" fill="#222" stroke="#222" stroke-width="0.1">2.70[m]</text>
<text x="1177.1" y="359.20" font-family="Liberation Sans" font-size="5.5" fill="#222" stroke="#222" stroke-width="0.1">0.35[m]</text>
<text x="1177.1" y="305.70" font-family="Liberation Sans" font-size="5.5" fill="#222" stroke="#222" stroke-width="0.1">2.70[m]</text>
<text x="1177.1" y="252.20" font-family="Liberation Sans" font-size="5.5" fill="#222" stroke="#222" stroke-width="0.1">0.35[m]</text>
<text x="1177.1" y="198.70" font-family="Liberation Sans" font-size="5.5" fill="#222" stroke="#222" stroke-width="0.1">2.70[m]</text>
<text x="1177.1" y="146.20" font-family="Liberation Sans" font-size="5.5" fill="#222" stroke="#222" stroke-width="0.1">0.30[m]</text>
<text x="1031.3" y="628.80" font-family="Liberation Sans" font-size="9.8" text-anchor="middle" fill="#2a78b3">Piano terra</text>
<text x="1031.3" y="522.05" font-family="Liberation Sans" font-size="9.8" text-anchor="middle" fill="#333">Piano primo</text>
<text x="1031.3" y="414.80" font-family="Liberation Sans" font-size="9.8" text-anchor="middle" fill="#333">Piano secondo</text>
<text x="1031.3" y="307.80" font-family="Liberation Sans" font-size="9.8" text-anchor="middle" fill="#333">Piano terzo</text>
<text x="1031.3" y="200.80" font-family="Liberation Sans" font-size="9.8" text-anchor="middle" fill="#333">Piano quarto</text>
</svg></body></html>
